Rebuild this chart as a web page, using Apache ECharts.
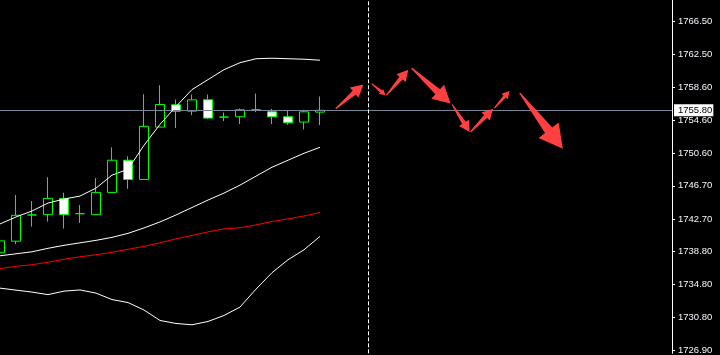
<!DOCTYPE html>
<html><head><meta charset="utf-8">
<script src="https://cdn.jsdelivr.net/npm/echarts@6/dist/echarts.min.js"></script>
<style>html,body{margin:0;padding:0;background:#000}#c{width:720px;height:355px}</style>
</head><body><div id="c"></div>
<script>
// bar slots (21 history bars + future space)
const categories = ['b0','b1','b2','b3','b4','b5','b6','b7','b8','b9','b10','b11','b12','b13','b14','b15','b16','b17','b18','b19','b20','b21','b22','b23','b24','b25','b26','b27','b28','b29','b30','b31','b32','b33','b34','b35','b36','b37','b38','b39','b40','b41','b42'];
const openP  = [1738.62,1740.02,1743.18,1743.22,1745.18,1743.34,1743.22,1745.90,1749.78,1747.46,1753.78,1756.46,1755.70,1757.06,1754.98,1755.02,1755.86,1755.62,1755.02,1754.38,1755.58];
const closeP = [1740.06,1743.14,1743.18,1745.18,1743.22,1743.34,1745.90,1749.78,1747.46,1753.86,1756.50,1755.70,1757.06,1754.86,1754.98,1755.86,1755.86,1755.02,1754.30,1755.62,1755.80];
const highP  = [1740.54,1745.58,1744.86,1747.74,1745.86,1744.38,1747.62,1751.34,1750.26,1757.74,1758.82,1757.10,1757.70,1757.70,1755.54,1756.02,1757.82,1755.98,1755.74,1755.86,1757.46];
const lowP   = [1738.14,1739.66,1741.78,1742.38,1741.54,1742.22,1743.22,1745.90,1746.34,1747.46,1753.78,1753.66,1755.22,1754.74,1754.50,1754.14,1755.58,1754.14,1754.06,1753.50,1754.02];
const bbUpper = [1742.10,1742.94,1743.66,1744.62,1745.10,1745.46,1746.42,1747.98,1748.70,1751.58,1754.10,1756.26,1758.30,1759.50,1760.70,1761.54,1762.02,1762.08,1762.02,1761.96,1761.84];
const bbMiddle = [1738.26,1738.50,1738.74,1739.16,1739.52,1739.82,1740.12,1740.48,1740.96,1741.62,1742.34,1743.18,1744.08,1744.98,1745.82,1746.78,1747.86,1748.94,1749.78,1750.62,1751.34];
const bbLower = [1734.36,1734.12,1733.88,1733.58,1734.00,1734.14,1733.76,1732.98,1732.62,1731.72,1730.46,1730.10,1729.94,1730.34,1731.06,1732.08,1734.24,1736.22,1737.78,1738.98,1740.60];
const redMA = [1736.70,1737.00,1737.18,1737.48,1737.84,1738.14,1738.38,1738.68,1739.04,1739.40,1739.82,1740.30,1740.72,1741.14,1741.50,1741.64,1741.98,1742.40,1742.70,1743.06,1743.48];
const tickLabels = ['1726.90','1730.80','1734.80','1738.80','1742.70','1746.70','1750.60','1754.60','1758.60','1762.50','1766.50'];
const currentPrice = 1755.80;
const separatorBar = 'b23';
// arrows: [startBar, startPrice, endBar, endPrice]
const arrows = [
  [20.98,1755.98,22.71,1758.90],
  [23.23,1759.02,24.10,1757.62],
  [24.15,1757.62,25.52,1760.70],
  [25.72,1760.90,28.16,1756.62],
  [28.26,1756.50,29.36,1753.18],
  [29.40,1753.18,30.82,1755.98],
  [30.90,1756.06,31.85,1758.14],
  [32.48,1757.90,35.18,1751.18]
];

const tickVals = tickLabels.map(parseFloat);
const candleData = openP.map((o,i)=>[o, closeP[i], lowP[i], highP[i]]);
const FONT = 'Liberation Sans';

const chart = echarts.init(document.getElementById('c'));
const lineS = (data, color) => ({type:'line', data, symbol:'none', xAxisIndex:0, yAxisIndex:0,
  lineStyle:{color, width:1}, z:5, silent:true, animation:false});
chart.setOption({
  backgroundColor:'#000',
  animation:false,
  grid:{left:-1.5, right:48, top:0, bottom:0, containLabel:false, show:false},
  xAxis:[
    {type:'category', data:categories, boundaryGap:false, show:false,
      axisLine:{show:false}, axisTick:{show:false}, axisLabel:{show:false}, splitLine:{show:false}},
    {type:'value', min:0, max:categories.length-1, show:false,
      axisLine:{show:false}, axisTick:{show:false}, axisLabel:{show:false}, splitLine:{show:false}}
  ],
  yAxis:[{
    type:'value', position:'right', min:1726.5, max:1769.1,
    axisLine:{show:true, onZero:false, lineStyle:{color:'#ffffff', width:1}},
    axisTick:{show:true, length:3, lineStyle:{color:'#ffffff'}, customValues:tickVals},
    axisLabel:{show:true, color:'#f4f8ff', fontSize:9.5, fontFamily:FONT, margin:6, customValues:tickVals,
      formatter:(v)=>{const k=tickVals.indexOf(v);return k>=0?tickLabels[k]:'';}},
    splitLine:{show:false}
  }],
  series:[
    {type:'candlestick', data:candleData, xAxisIndex:0, yAxisIndex:0, barWidth:10, z:3,
      itemStyle:{color:'#000000', color0:'#ffffff', borderColor:'#00ff00', borderColor0:'#00ff00', borderColorDoji:'#00ff00', borderWidth:1},
      markLine:{symbol:'none', silent:true, animation:false,
        data:[
          {yAxis:currentPrice, lineStyle:{color:'#778899', width:1, type:'solid'},
            label:{show:true, position:'end', distance:2, formatter:currentPrice.toFixed(2), color:'#000', backgroundColor:'#ffffff',
              fontSize:9.5, fontFamily:FONT, padding:[1,1,1,4]}},
          {xAxis:separatorBar, lineStyle:{color:'#ffffff', width:1, type:[4,2]}, label:{show:false}}
        ]}},
    lineS(bbUpper,'#ffffff'),
    lineS(bbMiddle,'#ffffff'),
    lineS(bbLower,'#ffffff'),
    lineS(redMA,'#ff0000'),
    {type:'custom', xAxisIndex:1, yAxisIndex:0, data:arrows, encode:{x:[0,2], y:[1,3]}, z:6, silent:true,
      renderItem:(params, api)=>{
        const a = api.coord([api.value(0), api.value(1)]);
        const b = api.coord([api.value(2), api.value(3)]);
        const dx=b[0]-a[0], dy=b[1]-a[1], L=Math.hypot(dx,dy);
        const ux=dx/L, uy=dy/L, nx=-uy, ny=ux;
        const hl=0.33*L, hw=0.18*L, sw=Math.max(1.4,0.065*L);
        const bx=b[0]-ux*hl, by=b[1]-uy*hl;
        const pts=[[a[0]+nx*0.6,a[1]+ny*0.6],[bx+nx*sw,by+ny*sw],[bx+nx*hw,by+ny*hw],[b[0],b[1]],
          [bx-nx*hw,by-ny*hw],[bx-nx*sw,by-ny*sw],[a[0]-nx*0.6,a[1]-ny*0.6]];
        return {type:'polygon', shape:{points:pts}, style:{fill:'#ff4040'}};
      }}
  ]
});
</script></body></html>
